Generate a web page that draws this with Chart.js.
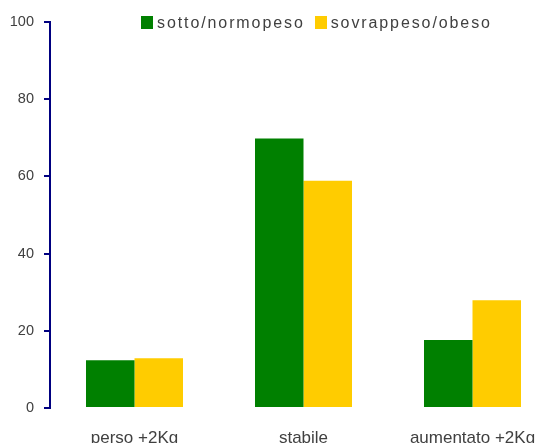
<!DOCTYPE html>
<html>
<head>
<meta charset="utf-8">
<script src="https://cdn.jsdelivr.net/npm/chart.js@4"></script>
<style>
  html, body { margin: 0; padding: 0; overflow: hidden; background: #fff; }
  #wrap { position: relative; width: 562px; height: 443px; }
  #legend { position: absolute; top: 14px; left: 141px; font: 16px "Liberation Sans", Arial, sans-serif;
            color: #404040; letter-spacing: 1.9px; white-space: nowrap; line-height: 18px; }
  #legend span.box { display: inline-block; width: 12px; height: 13px; vertical-align: -1px; margin-right: 4px; }
  #legend span.item { margin-right: 10px; }
</style>
</head>
<body>
<div id="wrap">
  <canvas id="chart" width="562" height="443"></canvas>
  <div id="legend"></div>
</div>
<script>
var categories = ['perso +2Kg', 'stabile', 'aumentato +2Kg'];
var sottoNormo = [12.4, 69.8, 17.6];
var sovrappesoObeso = [12.9, 58.9, 27.9];
var seriesNames = ['sotto/normopeso', 'sovrappeso/obeso'];
var seriesColors = ['#008000', '#FFCC00'];

var ctx = document.getElementById('chart').getContext('2d');

var data = {
  labels: categories,
  datasets: [
    {
      label: seriesNames[0],
      data: sottoNormo,
      backgroundColor: seriesColors[0]
    },
    {
      label: seriesNames[1],
      data: sovrappesoObeso,
      backgroundColor: seriesColors[1]
    }
  ]
};

var options = {
  responsive: false,
  animation: false,
  layout: { padding: { top: 22, right: 5, left: 0, bottom: 0 } },
  plugins: { legend: { display: false }, tooltip: { enabled: false } },
  datasets: { bar: { categoryPercentage: 0.574, barPercentage: 1 } },
  scales: {
    x: {
      grid: { display: false },
      border: { display: false },
      ticks: { color: '#404040', font: { family: 'Liberation Sans', size: 17 }, padding: 12, maxRotation: 0 },
      afterFit: function (s) { s.height = 35; }
    },
    y: {
      min: 0,
      max: 100,
      ticks: { stepSize: 20, color: '#404040', font: { family: 'Liberation Sans', size: 14.5 }, padding: 10 },
      grid: { drawOnChartArea: false, drawTicks: true, tickLength: 6, color: '#000080', lineWidth: 2 },
      border: { color: '#000080', width: 2 },
      afterFit: function (s) { s.width = 50; }
    }
  }
};

var myChart = new Chart(ctx, {
  type: 'bar',
  data: data,
  options: options
});

// legend
var legend = document.getElementById('legend');
seriesNames.forEach(function (name, i) {
  var item = document.createElement('span');
  item.className = 'item';
  item.innerHTML = '<span class="box" style="background:' + seriesColors[i] + '"></span>' + name;
  legend.appendChild(item);
});
</script>
</body>
</html>
